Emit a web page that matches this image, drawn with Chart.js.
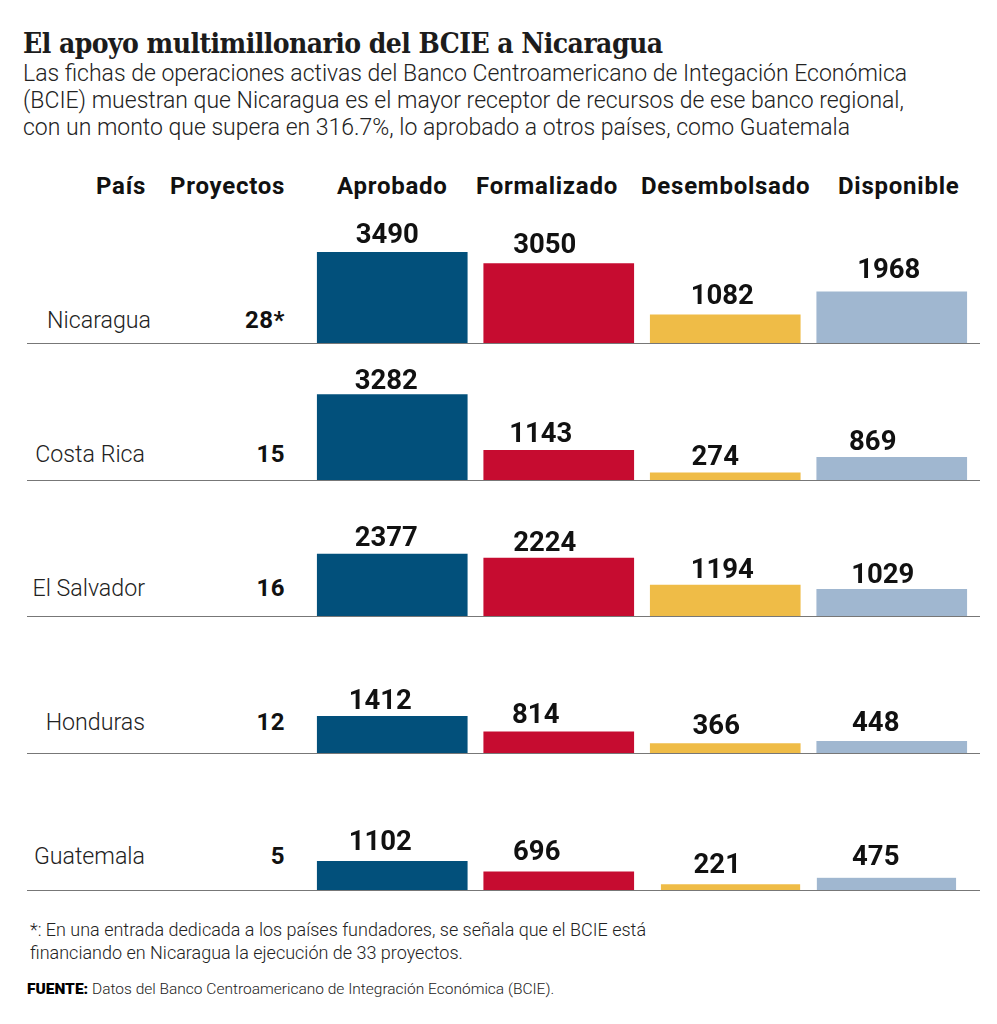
<!DOCTYPE html>
<html lang="es">
<head>
<meta charset="utf-8">
<title>El apoyo multimillonario del BCIE a Nicaragua</title>
<script src="https://cdn.jsdelivr.net/npm/chart.js@4"></script>
<style>
  html, body { margin: 0; padding: 0; background: #fff; }
  #page { position: relative; width: 997px; height: 1024px; overflow: hidden; color: #222; font-family: Roboto, sans-serif; }
  #page > * { position: absolute; white-space: nowrap; }
  h1 { margin: 0; left: 23px; top: 26px; font: 700 28px/36px "DejaVu Serif", serif; font-stretch: condensed; letter-spacing: -0.55px; color: #1c1c1c; }
  .intro { left: 23px; font-weight: 300; font-size: 23px; line-height: 27px; }
  .head { top: 171px; font-weight: 700; font-size: 24px; line-height: 30px; letter-spacing: 0.75px; color: #111; }
  .country { width: 145px; left: 0; text-align: right; font-weight: 300; font-size: 23.2px; line-height: 30px; }
  .projects { width: 285px; left: 0; text-align: right; font-weight: 700; font-size: 24px; line-height: 30px; letter-spacing: 0.5px; color: #111; }
  .baseline { left: 27px; width: 953px; height: 1px; background: #777; }
  .note { left: 30px; font-weight: 300; font-size: 18px; line-height: 23px; }
  .source { left: 27px; top: 979px; font-weight: 300; font-size: 15.5px; line-height: 20px; }
  .source b { font-weight: 900; color: #000; }
  canvas { position: absolute; }
</style>
</head>
<body>
<div id="page">
  <h1>El apoyo multimillonario del BCIE a Nicaragua</h1>
  <div class="intro" style="top:60px">Las fichas de operaciones activas del Banco Centroamericano de Integación Económica</div>
  <div class="intro" style="top:87px">(BCIE) muestran que Nicaragua es el mayor receptor de recursos de ese banco regional,</div>
  <div class="intro" style="top:114px">con un monto que supera en 316.7%, lo aprobado a otros países, como Guatemala</div>
  <div class="head" style="left:96px">País</div>
  <div class="head" style="left:170px">Proyectos</div>
  <div class="head" style="left:337px">Aprobado</div>
  <div class="head" style="left:476px">Formalizado</div>
  <div class="head" style="left:641px">Desembolsado</div>
  <div class="head" style="left:838px">Disponible</div>
  <div class="note" style="top:918px">*: En una entrada dedicada a los países fundadores, se señala que el BCIE está</div>
  <div class="note" style="top:941px">financiando en Nicaragua la ejecución de 33 proyectos.</div>
  <div class="source"><b>FUENTE:</b> Datos del Banco Centroamericano de Integración Económica (BCIE).</div>
</div>
<script>
// Data
const countries = ['Nicaragua', 'Costa Rica', 'El Salvador', 'Honduras', 'Guatemala'];
const projects = ['28*', '15', '16', '12', '5'];
const columns = ['Aprobado', 'Formalizado', 'Desembolsado', 'Disponible'];
const aprobado = [3490, 3282, 2377, 1412, 1102];
const formalizado = [3050, 1143, 2224, 814, 696];
const desembolsado = [1082, 274, 1194, 366, 221];
const disponible = [1968, 869, 1029, 448, 475];

const colors = ['#02507b', '#c60c30', '#efbc47', '#a0b7d0'];

// Layout of the rows, in page pixels
const baselines = [343, 480, 616, 753, 890];
const nameCentres = [320, 454, 588, 722, 856];
const rowHeight = 130;
const yMax = rowHeight / 0.026; // all rows share one scale

// The value labels are not centred on the bars in the original, shift them by hand
const labelShiftX = [
  [-5, -14, -3, -3],
  [-6, -18, -10, -19],
  [-6, -14, -3, -9],
  [-12, -23, -9, -16],
  [-12, -22, -8, -16]
];
const labelShiftY = [
  [2, 0, 0, -3],
  [5, 3, 3, 4],
  [3, 4, 4, 5],
  [4, 2, 2, 1],
  [0, -1, 0, -2]
];

// Guatemala's last two bars are narrower, trim them with a white side border
const trim = { 4: { 2: { left: 11 }, 3: { right: 11 } } };

const valueLabels = {
  id: 'valueLabels',
  afterDatasetsDraw(chart) {
    const row = chart.options.plugins.valueLabels.row;
    const ctx = chart.ctx;
    const data = chart.data.datasets[0].data;
    ctx.save();
    ctx.font = '700 27.5px Roboto, sans-serif';
    ctx.fillStyle = '#111';
    ctx.textAlign = 'center';
    ctx.textBaseline = 'middle';
    chart.getDatasetMeta(0).data.forEach((bar, i) => {
      ctx.fillText(String(data[i]), bar.x + labelShiftX[row][i], bar.y - 18 + labelShiftY[row][i]);
    });
    ctx.restore();
  }
};

const page = document.getElementById('page');

countries.forEach((country, row) => {
  const base = baselines[row];

  const name = document.createElement('div');
  name.className = 'country';
  name.textContent = country;
  name.style.top = (nameCentres[row] - 15) + 'px';
  if (row === 0) name.style.left = '6px';
  page.appendChild(name);

  const count = document.createElement('div');
  count.className = 'projects';
  count.textContent = projects[row];
  count.style.top = (nameCentres[row] - 15) + 'px';
  page.appendChild(count);

  const line = document.createElement('div');
  line.className = 'baseline';
  line.style.top = base + 'px';
  page.appendChild(line);

  const canvas = document.createElement('canvas');
  canvas.width = 666;
  canvas.height = rowHeight;
  canvas.style.left = '309px';
  canvas.style.top = (base - rowHeight) + 'px';
  page.appendChild(canvas);

  new Chart(canvas, {
    type: 'bar',
    data: {
      labels: columns,
      datasets: [{
        label: country,
        data: [aprobado[row], formalizado[row], desembolsado[row], disponible[row]],
        backgroundColor: colors,
        barThickness: 150,
        borderColor: '#fff',
        borderSkipped: false,
        borderWidth: (c) => (trim[row] && trim[row][c.dataIndex]) || 0
      }]
    },
    options: {
      responsive: false,
      animation: false,
      layout: { padding: 0 },
      scales: {
        x: { display: false },
        y: { display: false, min: 0, max: yMax }
      },
      plugins: {
        legend: { display: false },
        tooltip: { enabled: false },
        valueLabels: { row: row }
      }
    },
    plugins: [valueLabels]
  });
});
</script>
</body>
</html>
